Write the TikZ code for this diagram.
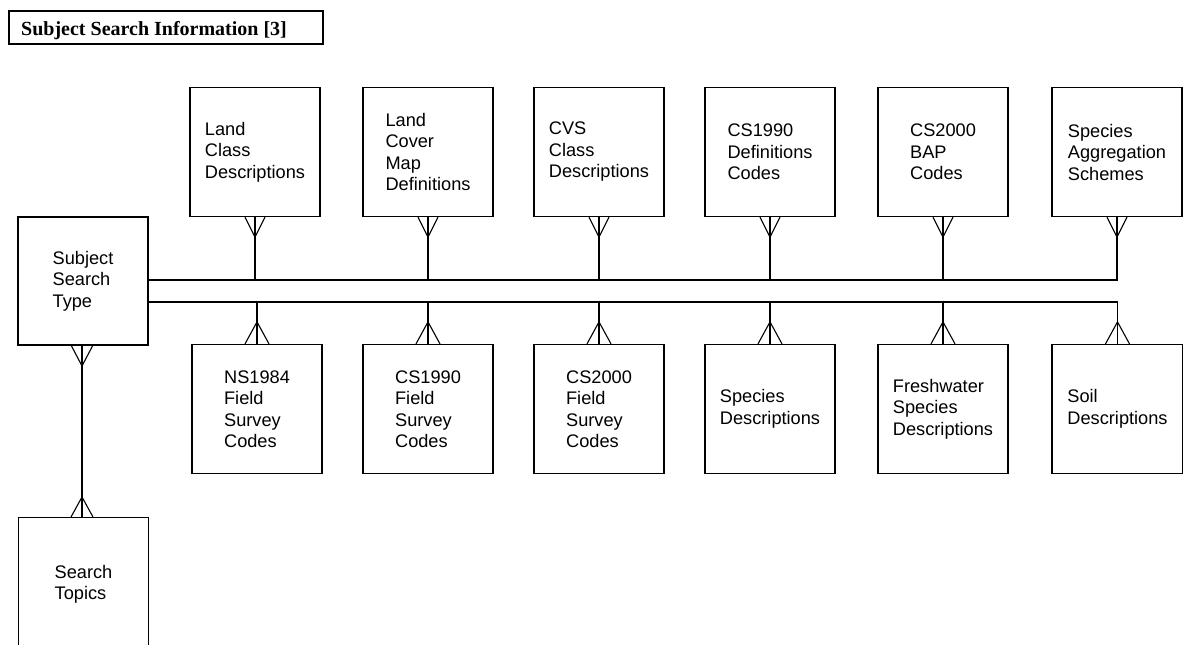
\documentclass[tikz,border=0pt]{standalone}
\usepackage{fontspec}
\setmainfont{Liberation Sans}
\newfontfamily\titlefont{Liberation Serif}
\usetikzlibrary{calc}
\tikzset{
  ent/.style={draw, line width=1.2pt, minimum width=130pt, minimum height=129pt, inner sep=0pt,
    align=left, font=\fontsize{18.2}{21.5}\selectfont},
  conn/.style={line width=1.1pt},
}
\begin{document}
\begin{tikzpicture}[x=1pt,y=-1pt]
\clip (0,0) rectangle (1183,645);
\fill[white] (0,0) rectangle (1183,645);
% title
\node[draw, line width=1.8pt, minimum width=314pt, minimum height=33pt, anchor=north west, inner sep=0pt] (title) at (8,10) {};
\node[anchor=base west, font=\titlefont\bfseries\fontsize{20}{23}\selectfont, inner sep=0pt] (titletext) at (21,35) {Subject Search Information [3]};
% left entities
\node[ent, minimum height=128pt] (sst) at (83,281) {Subject\\Search\\Type};
\node[ent, minimum height=133pt, anchor=north] (top) at (83.5,517) {Search\\Topics};
% top entities
\node[ent] (lcd) at (255,152) {Land\\Class\\Descriptions};
\node[ent] (lcm) at (428,152) {Land\\Cover\\Map\\Definitions};
\node[ent] (cvs) at (599,152) {CVS\\Class\\Descriptions};
\node[ent] (cdc) at (770,152) {CS1990\\Definitions\\Codes};
\node[ent] (bap) at (943,152) {CS2000\\BAP\\Codes};
\node[ent] (agg) at (1117,152) {Species\\Aggregation\\Schemes};
% bottom entities
\node[ent] (ns) at (257,409) {NS1984\\Field\\Survey\\Codes};
\node[ent] (cs90) at (428,409) {CS1990\\Field\\Survey\\Codes};
\node[ent] (cs00) at (599,409) {CS2000\\Field\\Survey\\Codes};
\node[ent] (spd) at (770,409) {Species\\Descriptions};
\node[ent] (fsd) at (943,409) {Freshwater\\Species\\Descriptions};
\node[ent, minimum width=131pt] (soil) at (1117.5,409) {Soil\\Descriptions};
% bus coordinates
\coordinate (busA) at (148,280);
\coordinate (busB) at (148,302);
% top bus
\draw[conn] (sst.east |- busA) -| (agg.south);
\foreach \n in {lcd,lcm,cvs,cdc,bap}{
  \draw[conn] (\n.south) -- (\n.south |- busA);
}
\foreach \n in {lcd,lcm,cvs,cdc,bap,agg}{
  \draw[conn] ($(\n.south)+(-10,0)$) -- ($(\n.south)+(0,20)$) -- ($(\n.south)+(10,0)$);
}
% bottom bus
\draw[conn] (sst.east |- busB) -| (soil.north);
\foreach \n in {ns,cs90,cs00,spd,fsd}{
  \draw[conn] (\n.north |- busB) -- (\n.north);
}
\foreach \n in {ns,cs90,cs00,spd,fsd,soil}{
  \draw[conn] ($(\n.north)+(-12,0)$) -- ($(\n.north)+(0,-22)$) -- ($(\n.north)+(12,0)$);
}
% subject type to search topics
\coordinate (sx) at (82,345);
\draw[conn] (sx) -- (sx |- top.north);
\draw[conn] ($(sx)+(-11,0)$) -- ($(sx)+(0,21)$) -- ($(sx)+(11,0)$);
\draw[conn] ($(sx |- top.north)+(-11,0)$) -- ($(sx |- top.north)+(0,-20)$) -- ($(sx |- top.north)+(11,0)$);
\end{tikzpicture}
\end{document}
